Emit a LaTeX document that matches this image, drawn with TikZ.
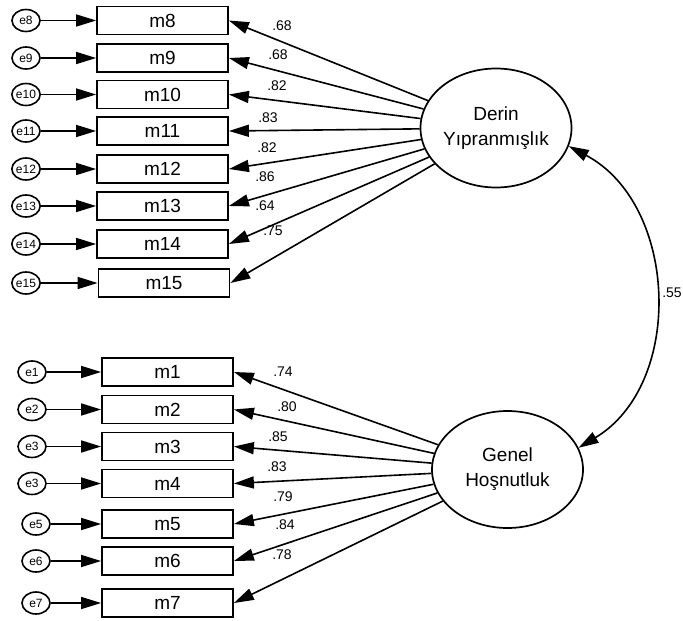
\documentclass[tikz,border=0pt]{standalone}
\usepackage{fontspec}
\setmainfont{Liberation Sans}
\usetikzlibrary{arrows.meta,shapes.geometric}
\begin{document}
\begin{tikzpicture}[x=1pt,y=1pt,
 obs/.style={draw, line width=1.8pt, minimum width=131pt, minimum height=28pt, inner sep=0pt, font=\fontsize{19}{22}\selectfont},
 err/.style={draw, ellipse, line width=1.6pt, minimum width=28pt, minimum height=22pt, inner sep=0pt, font=\fontsize{12}{13}\selectfont},
 lat/.style={draw, ellipse, line width=1.7pt, minimum width=151pt, minimum height=119pt, inner sep=0pt, align=center, font=\fontsize{19}{25}\selectfont},
 tip/.tip={Triangle[length=20pt,width=12pt]},
 arr/.style={-tip, line width=1.6pt},
 lbl/.style={font=\fontsize{14}{16}\selectfont, inner sep=0pt}]
\useasboundingbox (0,0) rectangle (683,-621);

% latent variables
\node[lat] (D) at (496,-128) {Derin\\Yıpranmışlık};
\node[lat, minimum height=117pt] (G) at (507.5,-469.5) {Genel\\Hoşnutluk};

% top block
\foreach \n/\y in {8/20.5, 9/58, 10/94.5, 11/131, 12/169, 13/206, 14/244} {
  \node[obs] (m\n) at (162.5,-\y) {m\n};
  \node[err] (e\n) at (26,-\y) {e\n};
  \draw[arr] (e\n) -- (m\n);
  \draw[arr] (D) -- (m\n.east);
}
\node[obs] (m15) at (164,-283) {m15};
\node[err] (e15) at (26,-283) {e15};
\draw[arr] (e15) -- (m15);
\draw[arr] (D) -- (m15.east);

% bottom block
\foreach \n/\e/\ex/\y in {1/e1/32/372, 2/e2/32/409.5, 3/e3/32/446.5, 4/e3/32/483.5, 5/e5/36/524, 6/e6/36/561, 7/e7/36/603} {
  \node[obs] (m\n) at (167.5,-\y) {m\n};
  \node[err] (ee\n) at (\ex,-\y) {\e};
  \draw[arr] (ee\n) -- (m\n);
  \draw[arr] (G) -- (m\n.east);
}

% loading labels
\node[lbl] at (282,-26) {.68};
\node[lbl] at (278,-55) {.68};
\node[lbl] at (277,-86) {.82};
\node[lbl] at (268,-118) {.83};
\node[lbl] at (267,-148) {.82};
\node[lbl] at (265,-177) {.86};
\node[lbl] at (265,-206) {.64};
\node[lbl] at (273,-231) {.75};

\node[lbl] at (283,-372) {.74};
\node[lbl] at (287,-407) {.80};
\node[lbl] at (278,-437) {.85};
\node[lbl] at (277,-467) {.83};
\node[lbl] at (283,-497) {.79};
\node[lbl] at (285,-525) {.84};
\node[lbl] at (282,-555) {.78};

% correlation
\draw[tip-tip, line width=1.6pt] (D.-14) to[out=-28, in=31, looseness=1.05] (G.17);
\node[lbl] at (672,-293) {.55};
\end{tikzpicture}
\end{document}
